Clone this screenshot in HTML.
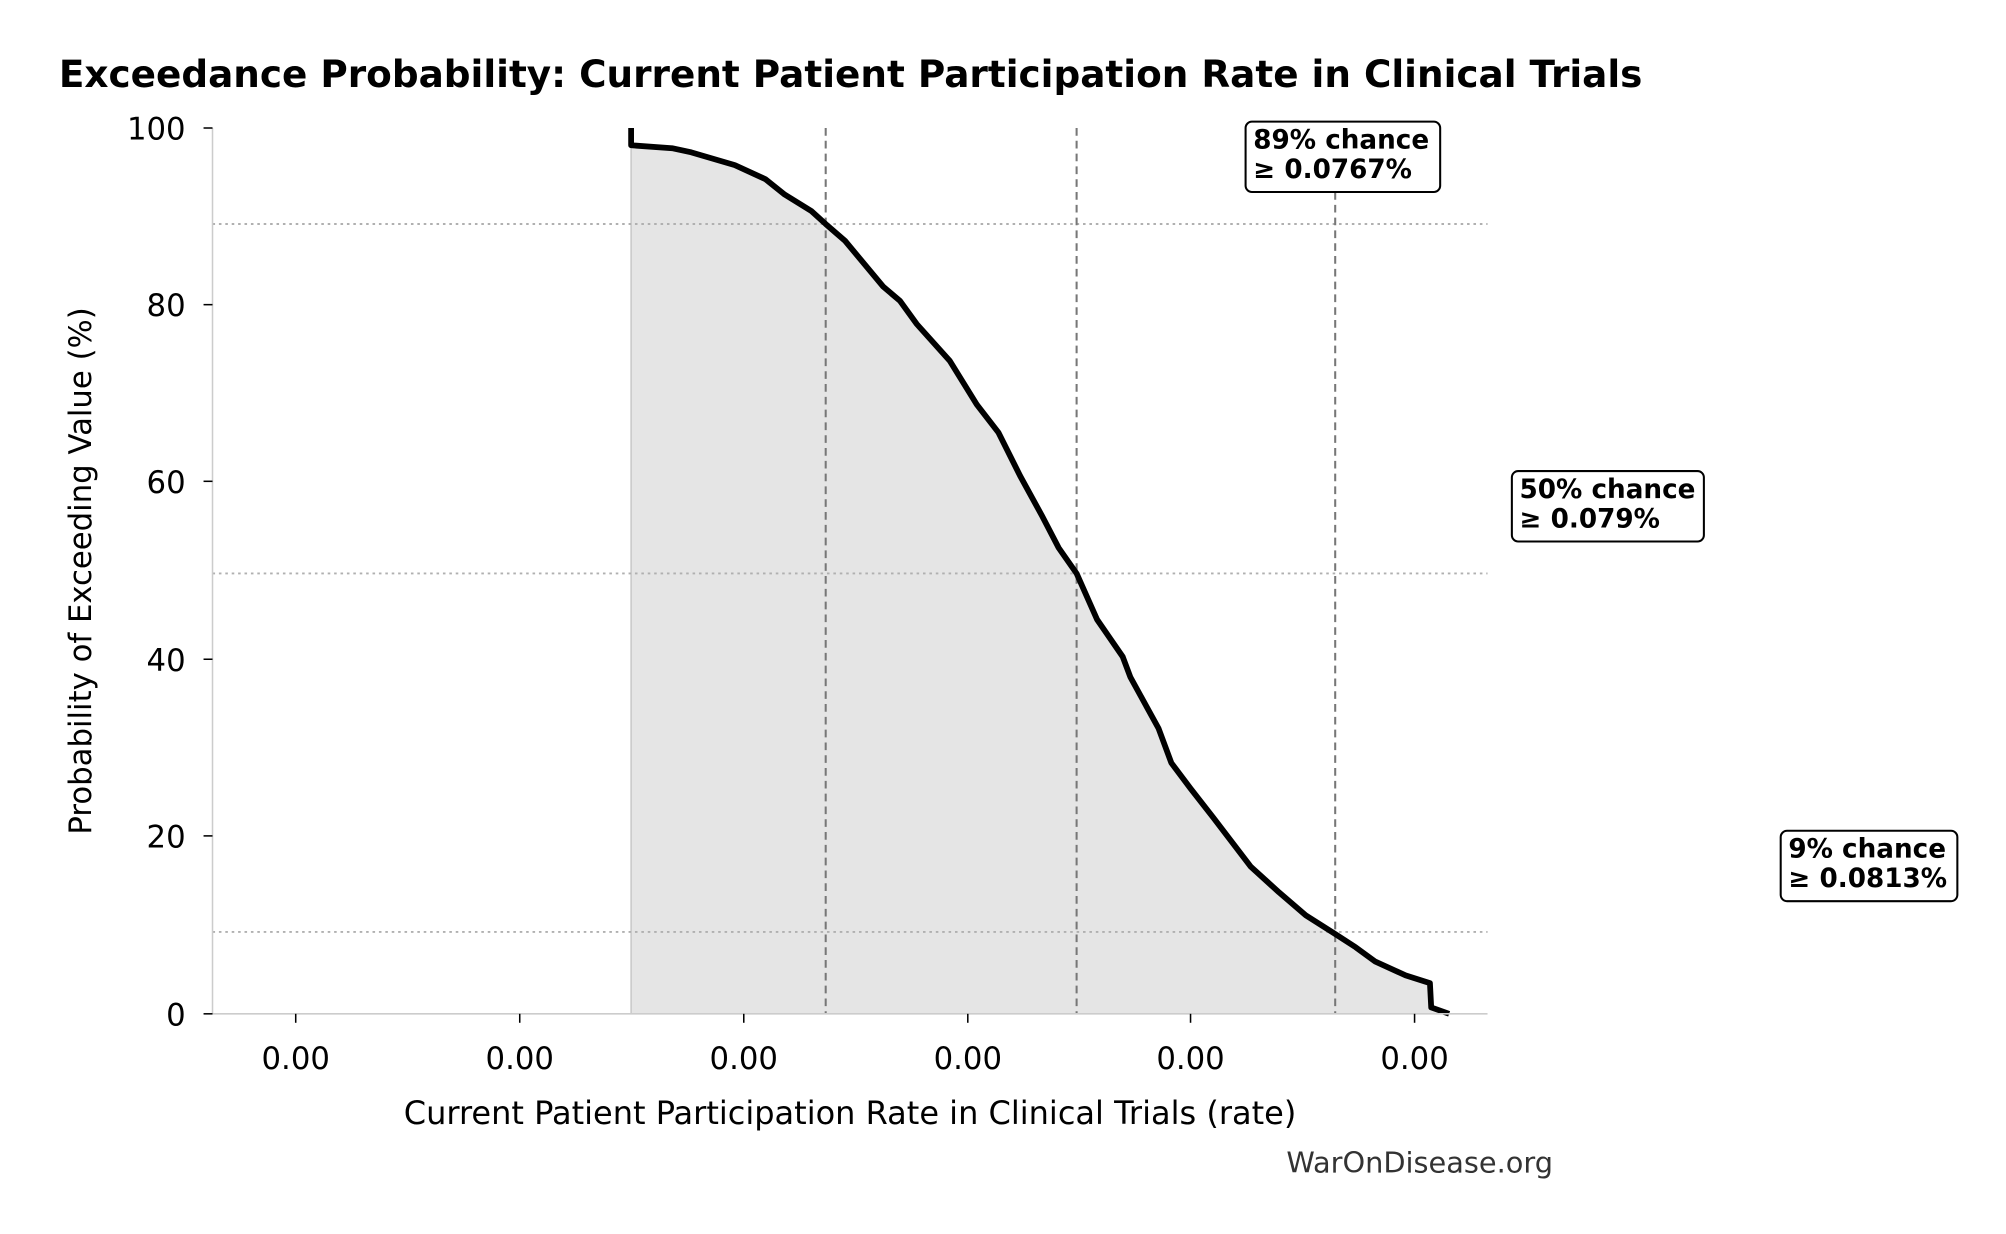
<!DOCTYPE html>
<html><head><style>
html,body{margin:0;padding:0;background:#fff;}
svg{display:block;}
text{font-family:"DejaVu Sans","Liberation Sans",sans-serif;}
</style></head><body>
<svg width="2006" height="1234" viewBox="0 0 1567 964" preserveAspectRatio="none" xmlns="http://www.w3.org/2000/svg">
<rect width="1567" height="964" fill="#fff"/>
<text x="46" y="68" font-size="29.2" font-weight="bold" fill="#000">Exceedance Probability: Current Patient Participation Rate in Clinical Trials</text>
<path d="M493,792 L493,113.5 L525,115.8 L540,119 L574,129 L598,140 L613,152 L634,165 L645,175 L660,188 L690,224 L703,235 L716,253 L742,282 L763,316 L780,338 L797,372 L814,403 L827,428 L841,448 L857,484 L877,513 L883,529 L905,569 L915,596 L930,616 L948,639 L977,677 L999,697 L1020,715 L1042,729 L1059,740 L1074,751 L1098,762 L1117,768 L1118,787 L1132,792 Z" fill="#e5e5e5"/>
<line x1="493" y1="100" x2="493" y2="792" stroke="#c8c8c8" stroke-width="1.2"/>
<g stroke="#b0b0b0" stroke-width="1.5" stroke-dasharray="2,3">
<line x1="166" y1="175" x2="1162" y2="175"/>
<line x1="166" y1="448" x2="1162" y2="448"/>
<line x1="166" y1="728" x2="1162" y2="728"/>
</g>
<g stroke="#777" stroke-width="1.6" stroke-dasharray="6,4">
<line x1="645" y1="100" x2="645" y2="792"/>
<line x1="841" y1="100" x2="841" y2="792"/>
<line x1="1043" y1="100" x2="1043" y2="792"/>
</g>
<path d="M493,100 L493,113.5 L525,115.8 L540,119 L574,129 L598,140 L613,152 L634,165 L645,175 L660,188 L690,224 L703,235 L716,253 L742,282 L763,316 L780,338 L797,372 L814,403 L827,428 L841,448 L857,484 L877,513 L883,529 L905,569 L915,596 L930,616 L948,639 L977,677 L999,697 L1020,715 L1042,729 L1059,740 L1074,751 L1098,762 L1117,768 L1118,787 L1132,792" fill="none" stroke="#000" stroke-width="4.5" stroke-linejoin="round"/>
<line x1="166" y1="100" x2="166" y2="792" stroke="#ccc" stroke-width="1.2"/>
<line x1="166" y1="792" x2="1162" y2="792" stroke="#ccc" stroke-width="1.2"/>
<g stroke="#000" stroke-width="1.2">
<line x1="159" y1="100" x2="166" y2="100"/><line x1="159" y1="238" x2="166" y2="238"/>
<line x1="159" y1="376" x2="166" y2="376"/><line x1="159" y1="515" x2="166" y2="515"/>
<line x1="159" y1="653" x2="166" y2="653"/><line x1="159" y1="792" x2="166" y2="792"/>
<line x1="231" y1="792" x2="231" y2="799"/><line x1="406" y1="792" x2="406" y2="799"/>
<line x1="581" y1="792" x2="581" y2="799"/><line x1="756" y1="792" x2="756" y2="799"/>
<line x1="930" y1="792" x2="930" y2="799"/><line x1="1105" y1="792" x2="1105" y2="799"/>
</g>
<g font-size="24" fill="#000" text-anchor="end">
<text x="145" y="109">100</text><text x="145" y="247">80</text><text x="145" y="385">60</text>
<text x="145" y="524">40</text><text x="145" y="662">20</text><text x="145" y="801">0</text>
</g>
<g font-size="24" fill="#000" text-anchor="middle">
<text x="231" y="835">0.00</text><text x="406" y="835">0.00</text><text x="581" y="835">0.00</text>
<text x="756" y="835">0.00</text><text x="930" y="835">0.00</text><text x="1105" y="835">0.00</text>
<text x="664" y="878" font-size="25">Current Patient Participation Rate in Clinical Trials (rate)</text>
</g>
<text transform="translate(71,446) rotate(-90)" font-size="24" text-anchor="middle">Probability of Exceeding Value (%)</text>
<text x="1109" y="916" font-size="22.5" fill="#333" text-anchor="middle">WarOnDisease.org</text>
<g font-size="20.5" font-weight="bold" fill="#000">
<rect x="973" y="95" width="152" height="55" rx="5" fill="#fff" stroke="#000" stroke-width="1.6"/>
<text x="979" y="116">89% chance</text><text x="979" y="139">≥ 0.0767%</text>
<rect x="1181" y="368" width="150" height="55" rx="5" fill="#fff" stroke="#000" stroke-width="1.6"/>
<text x="1187" y="389">50% chance</text><text x="1187" y="412">≥ 0.079%</text>
<rect x="1391" y="649" width="138" height="55" rx="5" fill="#fff" stroke="#000" stroke-width="1.6"/>
<text x="1397" y="670">9% chance</text><text x="1397" y="693">≥ 0.0813%</text>
</g>
</svg>
</body></html>
